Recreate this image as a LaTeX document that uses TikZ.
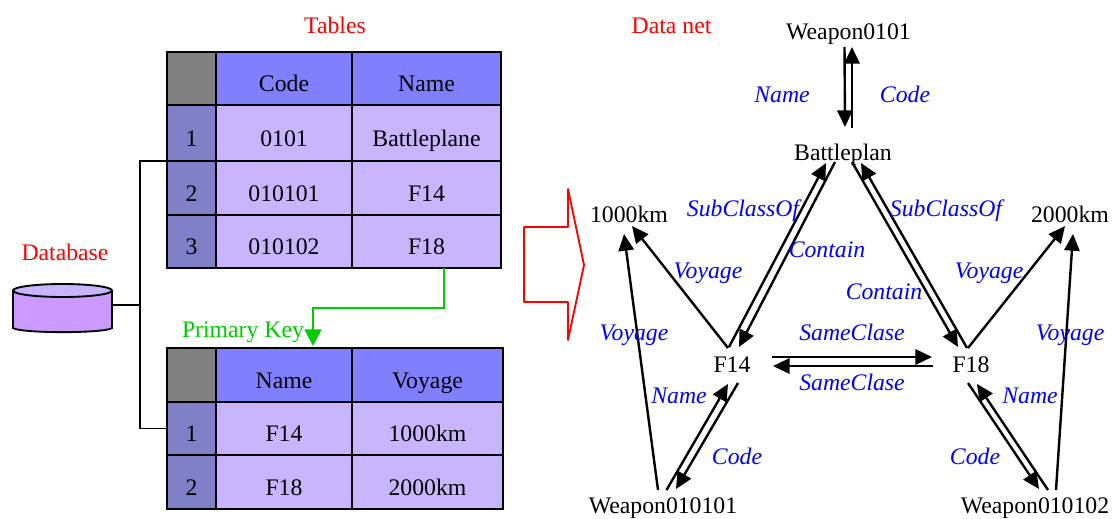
\documentclass[tikz,border=0pt]{standalone}
\usepackage{fontspec}
\setmainfont{Liberation Serif}
\usetikzlibrary{arrows.meta}
\definecolor{hdrblue}{HTML}{8080FF}
\definecolor{idxblue}{HTML}{8080C8}
\definecolor{celllilac}{HTML}{C8B4FF}
\definecolor{dbviolet}{HTML}{CC99FF}
\definecolor{keygreen}{HTML}{00CC00}
\tikzset{
  cellbox/.style 2 args={draw,line width=1.8pt,inner sep=0pt,outer sep=0pt,
    minimum width=#1*0.75pt,minimum height=#2*0.75pt,
    text height=20pt,text depth=0pt,font=\fontsize{17.8}{20}\selectfont},
  item/.style={inner sep=0pt,text height=13pt,text depth=2.4pt,font=\fontsize{17.8}{20}\selectfont},
  heading/.style={item,text=red},
  rel/.style={item,text=blue,font=\fontsize{17.8}{20}\selectfont\itshape},
}
\begin{document}
\begin{tikzpicture}[x=0.75pt,y=-0.75pt]
      \useasboundingbox (0,0) rectangle (1112,518);
      \draw
        (335,26.5) node[heading] (tables){Tables}
        (65,253.5) node[heading] (database){Database}
        (671.5,26.5) node[heading] (datanet){Data net}
        (243,330) node[item,text=keygreen] (primarykey){Primary Key};
      % first table
      \draw
        (191.5,78.5) node[cellbox={49}{53},fill=gray] (a00){}
        (284,78.5) node[cellbox={136}{53},fill=hdrblue] (a01){Code}
        (426.5,78.5) node[cellbox={149}{53},fill=hdrblue] (a02){Name}
        (191.5,133) node[cellbox={49}{56},fill=idxblue] (a10){1}
        (284,133) node[cellbox={136}{56},fill=celllilac] (a11){0101}
        (426.5,133) node[cellbox={149}{56},fill=celllilac] (a12){Battleplane}
        (191.5,188) node[cellbox={49}{54},fill=idxblue] (a20){2}
        (284,188) node[cellbox={136}{54},fill=celllilac] (a21){010101}
        (426.5,188) node[cellbox={149}{54},fill=celllilac] (a22){F14}
        (191.5,241.5) node[cellbox={49}{53},fill=idxblue] (a30){3}
        (284,241.5) node[cellbox={136}{53},fill=celllilac] (a31){010102}
        (426.5,241.5) node[cellbox={149}{53},fill=celllilac] (a32){F18};
      % second table
      \draw
        (191.5,375) node[cellbox={49}{54},fill=gray] (b00){}
        (284,375) node[cellbox={136}{54},fill=hdrblue] (b01){Name}
        (427.5,375) node[cellbox={151}{54},fill=hdrblue] (b02){Voyage}
        (191.5,428.5) node[cellbox={49}{53},fill=idxblue] (b10){1}
        (284,428.5) node[cellbox={136}{53},fill=celllilac] (b11){F14}
        (427.5,428.5) node[cellbox={151}{53},fill=celllilac] (b12){1000km}
        (191.5,482) node[cellbox={49}{54},fill=idxblue] (b20){2}
        (284,482) node[cellbox={136}{54},fill=celllilac] (b21){F18}
        (427.5,482) node[cellbox={151}{54},fill=celllilac] (b22){2000km};
      % database drum
      \draw[line width=1.4pt,fill=dbviolet]
        (13,290.5) -- (13,328) .. controls (20,333.5) and (105,333.5) .. (112,328) -- (112,290.5);
      \draw[line width=1.4pt,fill=celllilac] (62.5,290.5) ellipse [x radius=49.5,y radius=6.5];
      \coordinate (db) at (112,305);
      \coordinate (bus) at (140,305);
      \begin{scope}[line width=1.4pt]
        \draw (db) to (bus);
        \draw (a10.south west) -| (bus);
        \draw (b10.west) -| (bus);
      \end{scope}
      \coordinate (bend) at (313,308);
      \draw[keygreen,line width=1.9pt,-{Triangle[length=12.5pt,width=12.5pt]}]
        ([shift={(17.5,0)}]a32.south) |- (bend) -- ([shift={(29,-2)}]b01.north);
      \draw[red,line width=1.4pt,line join=round]
        (524,227) -- (568,227) -- (568,189) -- (584,265) -- (568,340) -- (568,302) -- (524,302) -- cycle;
      % data net
      \draw
        (848.5,32) node[item] (w0){Weapon0101}
        (843,153) node[item] (bp){Battleplan}
        (732,365) node[item] (f14){F14}
        (971,365) node[item] (f18){F18}
        (629,215) node[item] (k1){1000km}
        (1070,215) node[item] (k2){2000km}
        (663,506) node[item] (w1){Weapon010101}
        (1035,506) node[item] (w2){Weapon010102};
      \begin{scope}[line width=1.8pt,-{Triangle[length=12.5pt,width=11.5pt]}]
        \draw ([shift={(-4,15)}]w0.center) to ([shift={(2,-26)}]bp.center);
        \draw ([shift={(9,-25)}]bp.center) to ([shift={(3.5,15)}]w0.center);
        \draw ([shift={(-3,-18)}]f14.center) to ([shift={(-17,10)}]bp.center);
        \draw ([shift={(-8,9)}]bp.center) to ([shift={(7,-18)}]f14.center);
        \draw ([shift={(9,9)}]bp.center) to ([shift={(-13,-18)}]f18.center);
        \draw ([shift={(-4,-17)}]f18.center) to ([shift={(18,10)}]bp.center);
        \draw ([shift={(-4,-17)}]f14.center) to ([shift={(3,11)}]k1.center);
        \draw ([shift={(-5,-16)}]w1.center) to ([shift={(-5,19)}]k1.center);
        \draw ([shift={(-3,-17)}]f18.center) to ([shift={(-5,11)}]k2.center);
        \draw ([shift={(21,-16)}]w2.center) to ([shift={(3,19)}]k2.center);
        \draw ([shift={(40,-8)}]f14.center) to ([shift={(-39,-8)}]f18.center);
        \draw ([shift={(-38,1)}]f18.center) to ([shift={(41,1)}]f14.center);
        \draw ([shift={(3.5,-16)}]w1.center) to ([shift={(-4,19)}]f14.center);
        \draw ([shift={(6,18)}]f14.center) to ([shift={(13,-17)}]w1.center);
        \draw ([shift={(-3,18)}]f18.center) to ([shift={(4,-17)}]w2.center);
        \draw ([shift={(13,-16)}]w2.center) to ([shift={(6,19)}]f18.center);
      \end{scope}
      \draw
        (782,95) node[rel] (name0){Name}
        (905,95) node[rel] (code0){Code}
        (743,209.5) node[rel] (subl){SubClassOf}
        (946,209.5) node[rel] (subr){SubClassOf}
        (827,250.5) node[rel] (conl){Contain}
        (884,292) node[rel] (conr){Contain}
        (708,271) node[rel] (voyl){Voyage}
        (989,271) node[rel] (voyr){Voyage}
        (634,333.5) node[rel] (voyo){Voyage}
        (1070,333.5) node[rel] (voyp){Voyage}
        (852,333.5) node[rel] (samea){SameClase}
        (852,383) node[rel] (sameb){SameClase}
        (679,396) node[rel] (namel){Name}
        (1030,396) node[rel] (namer){Name}
        (737,457.5) node[rel] (codel){Code}
        (975,457.5) node[rel] (coder){Code};
    \end{tikzpicture}
\end{document}
